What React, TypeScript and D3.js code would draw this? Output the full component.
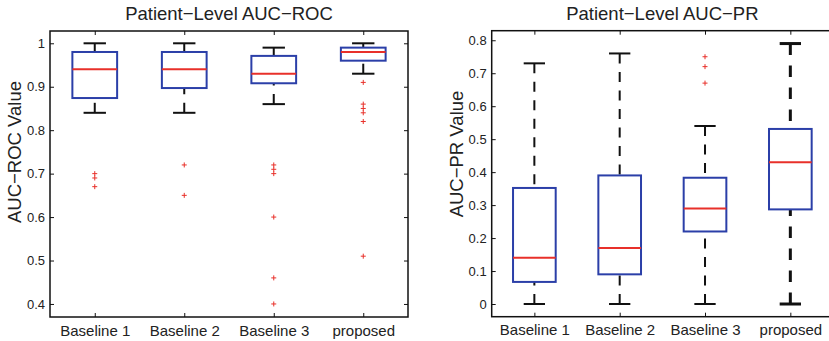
import React, { useRef, useEffect } from 'react';
import * as d3 from 'd3';

// categories shared by both panels
const categories = ["Baseline 1", "Baseline 2", "Baseline 3", "proposed"];

// AUC-ROC box stats
const rocLower = [0.84, 0.84, 0.86, 0.93];
const rocQ1 = [0.874, 0.897, 0.908, 0.96];
const rocMedian = [0.94, 0.94, 0.93, 0.98];
const rocQ3 = [0.98, 0.98, 0.971, 0.99];
const rocUpper = [1.0, 1.0, 0.99, 1.0];
const rocOutliers = [
    [0.70, 0.69, 0.67],
    [0.72, 0.65],
    [0.72, 0.71, 0.70, 0.60, 0.46, 0.40],
    [0.91, 0.86, 0.85, 0.84, 0.82, 0.51],
];
const rocTicks = [0.4, 0.5, 0.6, 0.7, 0.8, 0.9, 1];

// AUC-PR box stats
const prLower = [0, 0, 0, 0];
const prQ1 = [0.067, 0.09, 0.22, 0.287];
const prMedian = [0.14, 0.17, 0.29, 0.43];
const prQ3 = [0.352, 0.39, 0.383, 0.531];
const prUpper = [0.73, 0.76, 0.54, 0.79];
const prOutliers = [[], [], [0.75, 0.72, 0.67], []];
const prTicks = [0, 0.1, 0.2, 0.3, 0.4, 0.5, 0.6, 0.7, 0.8];

const FONT = '"Liberation Sans", Arial, Helvetica, sans-serif';
const BLUE = '#2b3fa8';
const RED = '#e8302a';
const INK = '#111';

function drawPanel(svg, o) {
    const { left, right, top, bottom, domain, ticks, title, ylabel, ylabelX, ylabelY, stats, boldIdx } = o;

    const x = d3.scalePoint()
        .domain(categories)
        .range([left, right])
        .padding(0.5);
    const y = d3.scaleLinear()
        .domain(domain)
        .range([bottom, top]);

    const step = x.step();
    const boxW = step * 0.5;
    const capW = step * 0.25;

    const g = svg.append("g");

    // frame
    g.append("rect")
        .attr("x", left).attr("y", top)
        .attr("width", right - left).attr("height", bottom - top)
        .attr("fill", "white")
        .attr("stroke", INK)
        .attr("stroke-width", 1.5);

    const styleAxis = (sel) => {
        sel.select(".domain").remove();
        sel.selectAll("line").attr("stroke", INK).attr("stroke-width", 1);
        sel.selectAll("text").attr("fill", "#222").style("font-family", FONT);
    };

    g.append("g")
        .attr("transform", `translate(${left},0)`)
        .call(d3.axisLeft(y).tickValues(ticks).tickSize(-4).tickPadding(5).tickFormat(d3.format("")))
        .call(styleAxis)
        .selectAll("text").style("font-size", "13px");

    g.append("g")
        .attr("transform", `translate(${right},0)`)
        .call(d3.axisRight(y).tickValues(ticks).tickSize(-4).tickFormat(() => ""))
        .call(styleAxis);

    g.append("g")
        .attr("transform", `translate(0,${top})`)
        .call(d3.axisTop(x).tickSize(-4).tickFormat(() => ""))
        .call(styleAxis);

    g.append("g")
        .attr("transform", `translate(0,${bottom})`)
        .call(d3.axisBottom(x).tickSize(-4).tickPadding(8))
        .call(styleAxis)
        .selectAll("text").style("font-size", "15px");

    // boxes
    categories.forEach((c, i) => {
        const cx = x(c);
        const bold = i === boldIdx;
        const ww = bold ? 3 : 2;
        const dash = bold ? "11.5,10.5" : "10,8.5";

        // whiskers, drawn from the cap toward the box
        g.append("line")
            .attr("x1", cx).attr("x2", cx)
            .attr("y1", y(stats.upper[i])).attr("y2", y(stats.q3[i]))
            .attr("stroke", INK).attr("stroke-width", ww).attr("stroke-dasharray", dash);
        g.append("line")
            .attr("x1", cx).attr("x2", cx)
            .attr("y1", y(stats.lower[i])).attr("y2", y(stats.q1[i]))
            .attr("stroke", INK).attr("stroke-width", ww).attr("stroke-dasharray", dash);

        // caps
        [stats.upper[i], stats.lower[i]].forEach(v => {
            g.append("line")
                .attr("x1", cx - capW / 2).attr("x2", cx + capW / 2)
                .attr("y1", y(v)).attr("y2", y(v))
                .attr("stroke", INK).attr("stroke-width", ww);
        });

        g.append("rect")
            .attr("x", cx - boxW / 2)
            .attr("y", y(stats.q3[i]))
            .attr("width", boxW)
            .attr("height", y(stats.q1[i]) - y(stats.q3[i]))
            .attr("fill", "none")
            .attr("stroke", BLUE)
            .attr("stroke-width", 2);

        g.append("line")
            .attr("x1", cx - boxW / 2).attr("x2", cx + boxW / 2)
            .attr("y1", y(stats.median[i])).attr("y2", y(stats.median[i]))
            .attr("stroke", RED).attr("stroke-width", 2);

        stats.outliers[i].forEach(v => {
            const py = y(v);
            g.append("path")
                .attr("d", `M${cx - 2.5},${py}H${cx + 2.5}M${cx},${py - 2.5}V${py + 2.5}`)
                .attr("stroke", RED).attr("stroke-width", 1).attr("fill", "none");
        });
    });

    g.append("text")
        .attr("x", (left + right) / 2)
        .attr("y", 20)
        .attr("text-anchor", "middle")
        .style("font-family", FONT)
        .style("font-size", "18.5px")
        .attr("fill", "#222")
        .text(title);

    g.append("text")
        .attr("transform", `translate(${ylabelX},${ylabelY}) rotate(-90)`)
        .attr("text-anchor", "middle")
        .style("font-family", FONT)
        .style("font-size", "18.5px")
        .attr("fill", "#222")
        .text(ylabel);
}

const App = () => {
    const ref = useRef(null);

    useEffect(() => {
        const svg = d3.select(ref.current);
        svg.selectAll("*").remove();

        drawPanel(svg, {
            left: 50, right: 408, top: 31, bottom: 317,
            domain: [0.370, 1.0283],
            ticks: rocTicks,
            title: "Patient\u2212Level AUC\u2212ROC",
            ylabel: "AUC\u2212ROC Value",
            ylabelX: 21, ylabelY: 152,
            stats: { lower: rocLower, q1: rocQ1, median: rocMedian, q3: rocQ3, upper: rocUpper, outliers: rocOutliers },
            boldIdx: -1,
        });

        drawPanel(svg, {
            left: 491.7, right: 833, top: 30.7, bottom: 316.7,
            domain: [-0.0385, 0.829],
            ticks: prTicks,
            title: "Patient\u2212Level AUC\u2212PR",
            ylabel: "AUC\u2212PR Value",
            ylabelX: 463, ylabelY: 154,
            stats: { lower: prLower, q1: prQ1, median: prMedian, q3: prQ3, upper: prUpper, outliers: prOutliers },
            boldIdx: 3,
        });
    }, []);

    return (
        <svg ref={ref} width={829} height={341}
            style={{ position: 'absolute', left: 0, top: 0, background: 'white' }} />
    );
};

export default App;
